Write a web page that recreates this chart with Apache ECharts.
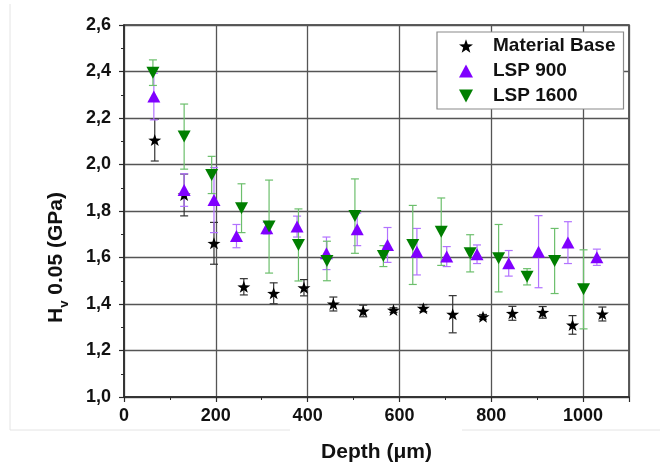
<!DOCTYPE html>
<html>
<head>
<meta charset="utf-8">
<title>Hardness vs depth</title>
<script src="https://cdn.jsdelivr.net/npm/echarts@6/dist/echarts.min.js"></script>
<style>
  html, body { margin: 0; padding: 0; background: #ffffff; }
  #chart { width: 666px; height: 464px; }
</style>
</head>
<body>
<div id="chart"></div>
<script>
// Microhardness profiles (HV 0.05) against depth below the surface
const seriesNames = ['Material Base', 'LSP 900', 'LSP 1600'];

const depthBase = [67, 131, 196, 261, 326, 392, 456, 521, 587, 652, 716, 782, 846, 912, 977, 1042];
const hvBase    = [2.105, 1.869, 1.661, 1.474, 1.446, 1.470, 1.400, 1.370, 1.374, 1.382, 1.356, 1.345, 1.360, 1.364, 1.310, 1.357];
const errBase   = [0.09, 0.09, 0.09, 0.035, 0.045, 0.035, 0.03, 0.025, 0.01, 0.015, 0.08, 0.01, 0.03, 0.025, 0.04, 0.03];

const depth900 = [65, 131, 196, 245, 311, 377, 441, 508, 574, 638, 703, 769, 838, 903, 967, 1030];
const hv900    = [2.292, 1.890, 1.847, 1.692, 1.726, 1.733, 1.618, 1.721, 1.654, 1.625, 1.604, 1.614, 1.575, 1.625, 1.664, 1.601];
const err900   = [0.1, 0.07, 0.14, 0.05, 0.025, 0.045, 0.07, 0.07, 0.075, 0.1, 0.043, 0.04, 0.055, 0.155, 0.09, 0.035];

const depth1600 = [63, 131, 191, 256, 316, 380, 442, 503, 565, 629, 691, 754, 816, 878, 938, 1001];
const hv1600    = [2.395, 2.120, 1.955, 1.812, 1.733, 1.654, 1.585, 1.778, 1.606, 1.654, 1.711, 1.618, 1.597, 1.517, 1.585, 1.463];
const err1600   = [0.055, 0.14, 0.08, 0.105, 0.2, 0.155, 0.085, 0.16, 0.045, 0.17, 0.145, 0.08, 0.145, 0.035, 0.14, 0.17];

const yTicks = [1.0, 1.2, 1.4, 1.6, 1.8, 2.0, 2.2, 2.4, 2.6];
const xTicks = [0, 200, 400, 600, 800, 1000];

const STAR = 'path://M10,0 L12.351,6.764 L19.511,6.910 L13.804,11.236 L15.878,18.090 L10,14 L4.122,18.090 L6.196,11.236 L0.489,6.910 L7.649,6.764 Z';
const TRI_DOWN = 'path://M0,0 L12,0 L6,11 Z';
const TRI_UP = 'path://M6,0 L12,11 L0,11 Z';

function points(xs, ys) { return xs.map((x, i) => [x, ys[i]]); }
function bars(xs, ys, es) { return xs.map((x, i) => [x, ys[i], es[i]]); }

function errorBars(color) {
  return function (params, api) {
    const x = api.value(0), y = api.value(1), e = api.value(2);
    const hi = api.coord([x, y + e]);
    const lo = api.coord([x, y - e]);
    const half = 4;
    const style = { stroke: color, lineWidth: 1.2 };
    return {
      type: 'group',
      children: [
        { type: 'line', shape: { x1: hi[0], y1: hi[1], x2: lo[0], y2: lo[1] }, style },
        { type: 'line', shape: { x1: hi[0] - half, y1: hi[1], x2: hi[0] + half, y2: hi[1] }, style },
        { type: 'line', shape: { x1: lo[0] - half, y1: lo[1], x2: lo[0] + half, y2: lo[1] }, style }
      ]
    };
  };
}

const FONT = 'Liberation Sans, Arial, sans-serif';
const PAGE_EDGE = '#e4e4e4';
const chart = echarts.init(document.getElementById('chart'), null, { renderer: 'canvas' });

chart.setOption({
  backgroundColor: '#ffffff',
  animation: false,
  grid: {
    left: 124, right: 37, top: 25, bottom: 67,
    outerBoundsMode: 'none', containLabel: false,
    show: true, borderColor: '#2a2a2a', borderWidth: 1.5, backgroundColor: 'transparent'
  },
  xAxis: {
    type: 'value', min: 0, max: 1100, interval: 200,
    name: 'Depth (\u03bcm)', nameLocation: 'middle', nameGap: 45,
    nameTextStyle: { fontFamily: FONT, fontWeight: 'bold', fontSize: 21, color: '#111' },
    axisLine: { show: true, lineStyle: { color: '#2a2a2a', width: 1.5 } },
    axisTick: { show: true, length: 5, lineStyle: { color: '#2a2a2a', width: 1.2 } },
    minorTick: { show: true, splitNumber: 2, length: 3, lineStyle: { color: '#2a2a2a', width: 1 } },
    splitLine: { show: true, lineStyle: { color: '#555', width: 1.3 } },
    axisLabel: {
      margin: 10, fontFamily: FONT, fontWeight: 'bold', fontSize: 18, color: '#111',
      showMaxLabel: false,
      formatter: v => (xTicks.indexOf(v) >= 0 ? String(v) : '')
    }
  },
  yAxis: {
    type: 'value', min: 1.0, max: 2.6, interval: 0.2,
    axisLine: { show: true, lineStyle: { color: '#2a2a2a', width: 1.5 } },
    axisTick: { show: true, length: 5, lineStyle: { color: '#2a2a2a', width: 1.2 } },
    minorTick: { show: true, splitNumber: 2, length: 3, lineStyle: { color: '#2a2a2a', width: 1 } },
    splitLine: { show: true, lineStyle: { color: '#555', width: 1.3 } },
    axisLabel: {
      margin: 13, fontFamily: FONT, fontWeight: 'bold', fontSize: 18, color: '#111',
      formatter: v => {
        const t = yTicks.find(k => Math.abs(k - v) < 1e-6);
        return t === undefined ? '' : t.toFixed(1).replace('.', ',');
      }
    }
  },
  legend: {
    orient: 'vertical', left: 437, top: 32,
    padding: [4, 8, 3, 22], itemGap: 5, itemWidth: 14, itemHeight: 14,
    backgroundColor: '#ffffff', borderColor: '#8a8a8a', borderWidth: 1.2,
    textStyle: { fontFamily: FONT, fontWeight: 'bold', fontSize: 19, color: '#111', lineHeight: 20, padding: [0, 0, 0, 15] },
    data: [
      { name: seriesNames[0], icon: STAR },
      { name: seriesNames[1], icon: TRI_UP },
      { name: seriesNames[2], icon: TRI_DOWN }
    ]
  },
  graphic: [
    // faint page edges around the figure
    { type: 'line', silent: true, z: -1, shape: { x1: 10, y1: 4, x2: 10, y2: 430 }, style: { stroke: PAGE_EDGE, lineWidth: 1 } },
    { type: 'line', silent: true, z: -1, shape: { x1: 10, y1: 430, x2: 290, y2: 430 }, style: { stroke: PAGE_EDGE, lineWidth: 1 } },
    { type: 'line', silent: true, z: -1, shape: { x1: 462, y1: 430, x2: 660, y2: 430 }, style: { stroke: PAGE_EDGE, lineWidth: 1 } },
    {
      type: 'text', left: 46, top: 192, rotation: Math.PI / 2, z: 10,
      style: {
        text: '{a|H}{s|v}{a| 0.05 (GPa)}',
        fill: '#111',
        rich: {
          a: { fontFamily: FONT, fontWeight: 'bold', fontSize: 21, fill: '#111', verticalAlign: 'bottom' },
          s: { fontFamily: FONT, fontWeight: 'bold', fontSize: 13, fill: '#111', verticalAlign: 'bottom', padding: [0, 0, -4, 0] }
        }
      }
    }
  ],
  series: [
    { type: 'custom', name: 'err-base', renderItem: errorBars('#333333'), data: bars(depthBase, hvBase, errBase), z: 1, silent: true },
    { type: 'custom', name: 'err-900', renderItem: errorBars('#b272ff'), data: bars(depth900, hv900, err900), z: 1, silent: true },
    { type: 'custom', name: 'err-1600', renderItem: errorBars('#6cbf6c'), data: bars(depth1600, hv1600, err1600), z: 1, silent: true },
    {
      type: 'scatter', name: seriesNames[0], data: points(depthBase, hvBase),
      symbol: STAR, symbolSize: [13, 12], itemStyle: { color: '#000000', opacity: 1 }, z: 3
    },
    {
      type: 'scatter', name: seriesNames[1], data: points(depth900, hv900),
      symbol: TRI_UP, symbolSize: [13, 12], itemStyle: { color: '#8000ff', opacity: 1 }, z: 3
    },
    {
      type: 'scatter', name: seriesNames[2], data: points(depth1600, hv1600),
      symbol: TRI_DOWN, symbolSize: [13, 12], itemStyle: { color: '#007f00', opacity: 1 }, z: 4
    }
  ]
});
</script>
</body>
</html>
